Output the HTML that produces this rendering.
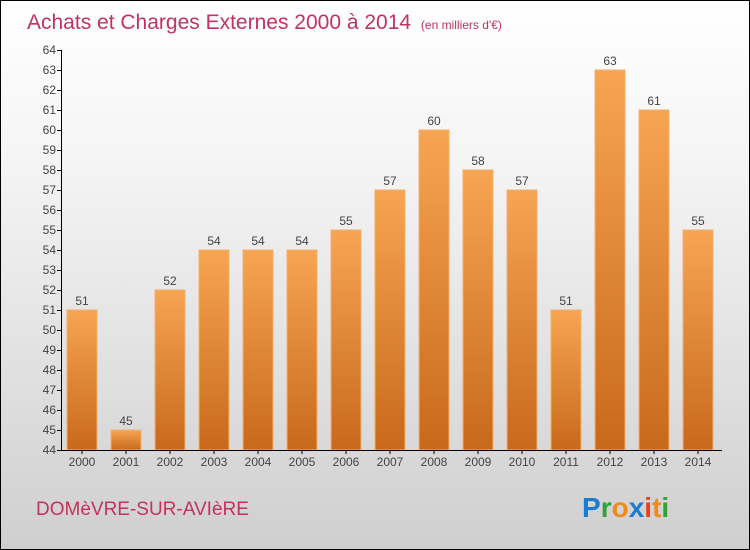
<!DOCTYPE html>
<html><head><meta charset="utf-8"><style>
body{margin:0;}
.w{width:748px;height:548px;border:1px solid #000;background:linear-gradient(#ffffff,#f4f4f4 30%,#cfcfcf);position:relative;overflow:hidden;font-family:"Liberation Sans",sans-serif;}
</style></head><body><div class="w">
<svg width="748" height="548" viewBox="1 1 748 548" style="position:absolute;left:0;top:0" font-family="Liberation Sans, sans-serif">
<defs><linearGradient id="g" x1="0" y1="0" x2="0" y2="1"><stop offset="0" stop-color="#f7a552"/><stop offset="1" stop-color="#c8691c"/></linearGradient></defs>
<text x="27" y="29" font-size="21" fill="#c4325f">Achats et Charges Externes 2000 à 2014 <tspan font-size="12" dx="4">(en milliers d'€)</tspan></text>
<g id="bars"></g>
<line x1="61.5" y1="50" x2="61.5" y2="451" stroke="#000"/>
<line x1="61" y1="450.5" x2="722" y2="450.5" stroke="#000"/>
<g id="ax" font-size="12" fill="#444"></g>
<text x="36" y="515" font-size="19" fill="#c4325f">DOMèVRE-SUR-AVIèRE</text>
<text x="582" y="517" font-size="28" font-weight="bold"><tspan fill="#1a7bd0">P</tspan><tspan fill="#2fa33a">r</tspan><tspan fill="#f08a1c">o</tspan><tspan fill="#1a7bd0">x</tspan><tspan fill="#e8411e">i</tspan><tspan fill="#f08a1c">t</tspan><tspan fill="#2fa33a">i</tspan></text>
</svg>
<script>
var v=[51,45,52,54,54,54,55,57,60,58,57,51,63,61,55],s='',a='';
v.forEach(function(d,i){var cx=82+i*44,y=450-(d-44)*20;
s+='<rect x="'+(cx-15)+'" y="'+y+'" width="30" height="'+(450-y)+'" fill="url(#g)" stroke="#f2b070" stroke-width="1"/>';
s+='<text x="'+cx+'" y="'+(y-5)+'" font-size="12" fill="#444" text-anchor="middle">'+d+'</text>';
a+='<line x1="'+cx+'" y1="450" x2="'+cx+'" y2="454" stroke="#000"/><text x="'+cx+'" y="466" text-anchor="middle">'+(2000+i)+'</text>';});
for(var k=44;k<=64;k++){var y=450-(k-44)*20;a+='<line x1="57" y1="'+(y+.5)+'" x2="62" y2="'+(y+.5)+'" stroke="#000"/><text x="56" y="'+(y+4)+'" text-anchor="end">'+k+'</text>';}
document.getElementById('bars').innerHTML=s;document.getElementById('ax').innerHTML=a;
</script>
</div></body></html>
